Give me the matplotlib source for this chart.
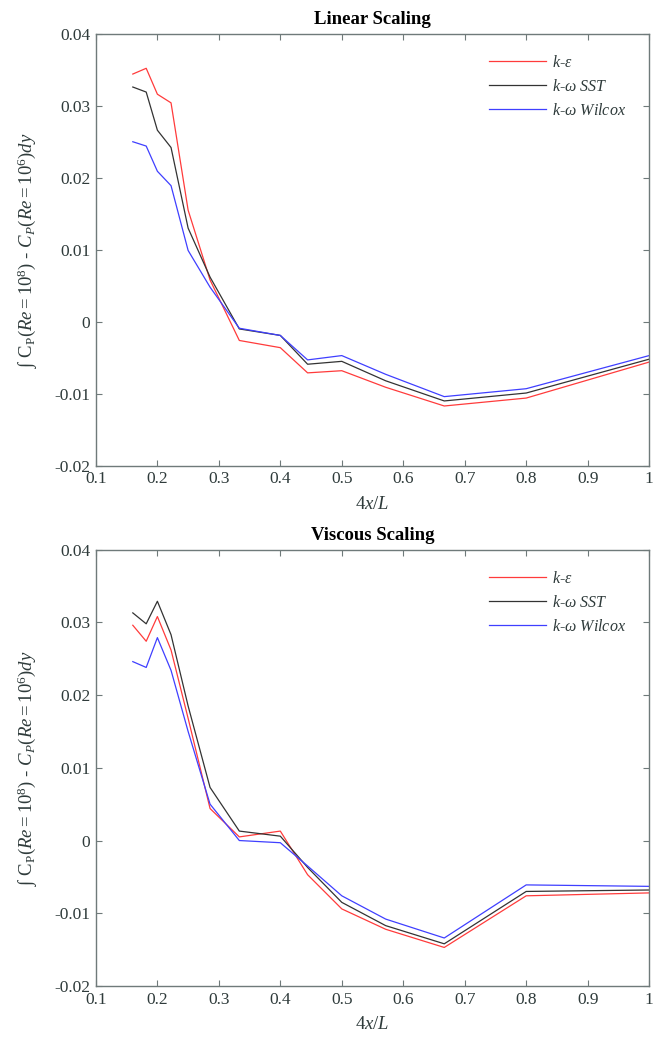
import numpy as np
import matplotlib.pyplot as plt

plt.rcParams['font.family'] = ['Liberation Serif', 'DejaVu Serif']
plt.rcParams['mathtext.fontset'] = 'custom'
plt.rcParams['mathtext.rm'] = 'Liberation Serif'
plt.rcParams['mathtext.it'] = 'Liberation Serif:italic'
plt.rcParams['mathtext.bf'] = 'Liberation Serif:bold'

# stations along the body, 4x/L
x_pos = [0.16, 0.1818, 0.2, 0.2222, 0.25, 0.2857, 0.3333, 0.4, 0.4444,
         0.5, 0.5714, 0.6667, 0.8, 1.0]

# linear scaling: integrated Cp difference per turbulence model
lin_keps = [0.0344, 0.0352, 0.0316, 0.0304, 0.0155, 0.0058, -0.0026, -0.0036,
            -0.0071, -0.0068, -0.0091, -0.0117, -0.0106, -0.0056]
lin_sst = [0.0326, 0.0319, 0.0266, 0.0242, 0.0130, 0.0062, -0.0010, -0.0019,
           -0.0059, -0.0055, -0.0082, -0.0110, -0.0099, -0.0052]
lin_wilcox = [0.0250, 0.0244, 0.0209, 0.0189, 0.0099, 0.0048, -0.0009, -0.0019,
              -0.0053, -0.0047, -0.0073, -0.0104, -0.0093, -0.0047]

# viscous scaling
vis_keps = [0.0296, 0.0274, 0.0308, 0.0262, 0.0168, 0.0044, 0.0005, 0.0013,
            -0.0047, -0.0094, -0.0122, -0.0147, -0.0076, -0.0072]
vis_sst = [0.0313, 0.0298, 0.0329, 0.0283, 0.0185, 0.0073, 0.0013, 0.0006,
           -0.0037, -0.0085, -0.0117, -0.0142, -0.0070, -0.0068]
vis_wilcox = [0.0246, 0.0238, 0.0279, 0.0234, 0.0150, 0.0050, 0.0000, -0.0003,
              -0.0035, -0.0076, -0.0108, -0.0134, -0.0061, -0.0063]

labels = [r'$k$-$\varepsilon$', r'$k$-$\omega$ $SST$', r'$k$-$\omega$ $Wilcox$']
colors = ['#ff3b3b', '#333333', '#3f3fff']
x_ticks = [0.1, 0.2, 0.3, 0.4, 0.5, 0.6, 0.7, 0.8, 0.9, 1.0]
x_ticklabels = ['0.1', '0.2', '0.3', '0.4', '0.5', '0.6', '0.7', '0.8', '0.9', '1']
y_ticks = [-0.02, -0.01, 0, 0.01, 0.02, 0.03, 0.04]
y_ticklabels = ['-0.02', '-0.01', '0', '0.01', '0.02', '0.03', '0.04']

ylabel = r'$\int\ \mathrm{C_P}(Re = 10^8)$ - $C_P(Re = 10^6)dy$'

fig = plt.figure(figsize=(6.57, 10.38), dpi=100)
ax1 = fig.add_axes([0.146, 0.5513, 0.842, 0.4162])
ax2 = fig.add_axes([0.146, 0.0501, 0.842, 0.4204])

panels = [
    (ax1, 'Linear Scaling', [lin_keps, lin_sst, lin_wilcox]),
    (ax2, 'Viscous Scaling', [vis_keps, vis_sst, vis_wilcox]),
]

for ax, title, series in panels:
    for vals, lab, col in zip(series, labels, colors):
        ax.plot(x_pos, vals, color=col, linewidth=0.9, label=lab)
    ax.set_xlim(0.1, 1.0)
    ax.set_ylim(-0.02, 0.04)
    ax.set_xticks(x_ticks)
    ax.set_xticklabels(x_ticklabels)
    ax.set_yticks(y_ticks)
    ax.set_yticklabels(y_ticklabels)
    ax.tick_params(direction='in', top=True, right=True, length=4, width=0.8,
                   color='#6f7a7a', labelcolor='#2f3b3b', labelsize=12.5, pad=4)
    for sp in ax.spines.values():
        sp.set_color('#6f7a7a')
        sp.set_linewidth(1.0)
    ax.set_title(title, fontsize=13.5, fontweight='bold', pad=7)
    ax.set_xlabel(r'$4x/L$', fontsize=13.5, color='#2f3b3b', labelpad=6)
    ax.set_ylabel(ylabel, fontsize=13.5, color='#2f3b3b', labelpad=10)
    leg = ax.legend(loc='upper right', frameon=False, fontsize=11.5,
                    handlelength=3.6, handletextpad=0.4, labelspacing=0.5,
                    bbox_to_anchor=(0.985, 0.985))
    for t in leg.get_texts():
        t.set_color('#2f3b3b')

fig.savefig('out.png', dpi=100)
